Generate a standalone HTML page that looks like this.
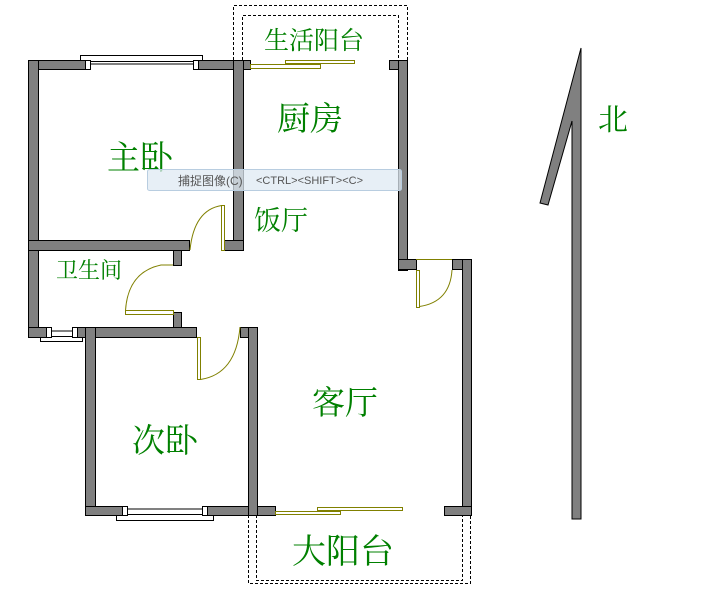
<!DOCTYPE html>
<html><head><meta charset="utf-8"><style>
html,body{margin:0;padding:0;background:#fff;}
svg{display:block}
text{font-family:"Liberation Serif","Noto Serif CJK SC",serif;fill:#008000;}
</style></head><body>
<svg width="715" height="589" viewBox="0 0 715 589" xmlns="http://www.w3.org/2000/svg">
<g fill="none" stroke="#000" stroke-dasharray="3,2" stroke-width="1">
<path d="M233.5,60 V5.5 H407.5 V60"/>
<path d="M242.5,60 V15.5 H398.5 V60"/>
<path d="M248.5,515 V583.5 H470.5 V515"/>
<path d="M256.5,515 V580.5 H462.5 V515"/>
</g>
<g fill="#fff" stroke="#000" stroke-width="1">
<rect x="80.5" y="55.5" width="122" height="6"/>
<rect x="40.5" y="336.5" width="42" height="5"/>
<rect x="116.5" y="514.5" width="97" height="6"/>
</g>
<g fill="#808080" stroke="#000" stroke-width="1">
<rect x="28.5" y="60.5" width="57" height="9"/>
<rect x="198.5" y="60.5" width="52" height="9"/>
<rect x="28.5" y="60.5" width="10" height="277"/>
<rect x="233.5" y="60.5" width="10" height="190"/>
<rect x="224.5" y="240.5" width="19" height="10"/>
<rect x="28.5" y="240.5" width="161" height="10"/>
<rect x="173.5" y="250.5" width="8" height="15"/>
<rect x="173.5" y="312.5" width="8" height="15"/>
<rect x="76.5" y="327.5" width="120" height="10"/>
<rect x="28.5" y="327.5" width="18" height="10"/>
<rect x="85.5" y="327.5" width="10" height="188"/>
<rect x="85.5" y="506.5" width="37" height="9"/>
<rect x="207.5" y="506.5" width="68" height="9"/>
<rect x="240.5" y="327.5" width="17" height="10"/>
<rect x="248.5" y="327.5" width="9" height="188"/>
<rect x="389.5" y="60.5" width="18" height="9"/>
<rect x="398.5" y="60.5" width="9" height="210"/>
<rect x="398.5" y="259.5" width="18" height="10"/>
<rect x="452.5" y="259.5" width="18" height="10"/>
<rect x="462.5" y="259.5" width="9" height="256"/>
<rect x="444.5" y="506.5" width="27" height="9"/>
</g>
<g fill="#fff" stroke="#000" stroke-width="1">
<rect x="85.5" y="60.5" width="5" height="9"/>
<rect x="193.5" y="60.5" width="5" height="9"/>
<line x1="90" y1="64" x2="194" y2="64"/>
<rect x="46.5" y="327.5" width="5" height="10"/>
<rect x="72.5" y="327.5" width="5" height="10"/>
<line x1="51" y1="331" x2="73" y2="331"/>
<rect x="122.5" y="506.5" width="5" height="9"/>
<rect x="202.5" y="506.5" width="5" height="9"/>
<line x1="127" y1="509" x2="203" y2="509"/>
</g>
<g fill="none" stroke="#808000" stroke-width="1">
<rect x="250.5" y="64.5" width="70" height="4"/>
<rect x="285.5" y="60.5" width="69" height="3"/>
<rect x="275.5" y="511.5" width="65" height="3"/>
<rect x="317.5" y="507.5" width="85" height="3"/>
<rect x="221.5" y="205.5" width="3" height="45"/>
<path d="M221.5,205.5 Q194,210 190,250"/>
<rect x="125.5" y="310.5" width="48" height="4"/>
<path d="M125.5,310.5 Q128,272 161,265 L173,265"/>
<rect x="197.5" y="337.5" width="3" height="42"/>
<path d="M200.5,379.5 Q236,374 240,327"/>
<rect x="416.5" y="270.5" width="3" height="37"/>
<path d="M419.5,306.5 Q450,302 452,270"/>
<line x1="416" y1="259.5" x2="452" y2="259.5"/>
</g>
<polygon points="581,48 581,519 572,519 572,121 548,205 540,203" fill="#808080" stroke="#000" stroke-width="1"/>
<text x="264" y="49" font-size="25">生活阳台</text>
<text x="277" y="130" font-size="33">厨房</text>
<text x="107" y="169" font-size="33">主卧</text>
<text x="254" y="230" font-size="27">饭厅</text>
<text x="56" y="278" font-size="22">卫生间</text>
<text x="312" y="414" font-size="33">客厅</text>
<text x="132" y="452" font-size="33">次卧</text>
<text x="292" y="563" font-size="34">大阳台</text>
<text x="598" y="130" font-size="30">北</text>
<rect x="147.5" y="169.5" width="254" height="21" rx="2" fill="#dfeaf3" fill-opacity="0.75" stroke="#b8cde0"/>
<text x="178" y="185" font-size="12" style="fill:#555;font-family:'Liberation Sans','Noto Sans CJK SC',sans-serif">捕捉图像(C)</text>
<text x="256" y="184" font-size="11" style="fill:#555;font-family:'Liberation Sans',sans-serif">&lt;CTRL&gt;&lt;SHIFT&gt;&lt;C&gt;</text>
</svg>
</body></html>
